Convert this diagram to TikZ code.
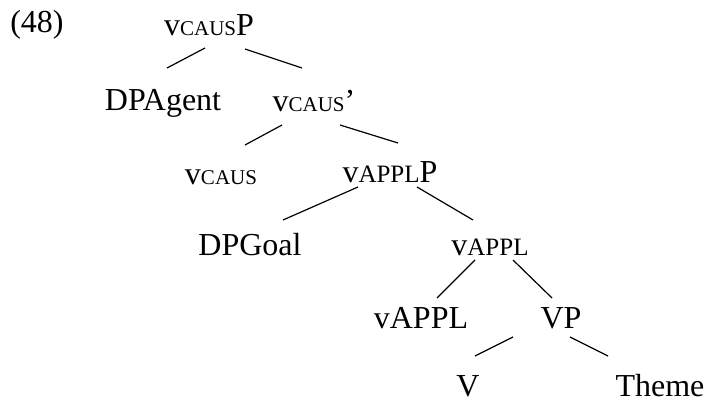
\documentclass[tikz,border=0pt]{standalone}
\usepackage{fontspec}
\setmainfont{Liberation Serif}
\usetikzlibrary{positioning}
\newcommand{\capsS}[1]{{\fontsize{21}{21}\selectfont #1}}
\newcommand{\capsM}[1]{{\fontsize{25}{25}\selectfont #1}}

\begin{document}
\begin{tikzpicture}[x=1pt, y=-1pt,
    lbl/.style={anchor=base, inner sep=0pt, font=\fontsize{32}{32}\selectfont},
    edge/.style={line width=1.2pt}]
  \useasboundingbox (0,0) rectangle (706,403);

  % Labels
  \node[lbl] (ex) at (37,33) {(48)};
  \node[lbl] (vcausP) at (209,36) {v\capsS{CAUS}P};
  \node[lbl] (dpAgent) at (163,111) {DPAgent};
  \node[lbl] (vcausBar) at (314,112) {v\capsS{CAUS}'};
  \node[lbl] (vcaus) at (221,185) {v\capsS{CAUS}};
  \node[lbl] (vapplP) at (390,183) {v\capsM{APPL}P};
  \node[lbl] (dpGoal) at (250,255) {DPGoal};
  \node[lbl] (vappl) at (490,255) {v\capsM{APPL}};
  \node[lbl] (vapplHead) at (421,328) {vAPPL};
  \node[lbl] (vp) at (561,328) {VP};
  \node[lbl] (verb) at (468,396) {V};
  \node[lbl] (theme) at (660,396) {Theme};

  % Branch ends
  \coordinate (b1a) at (205,48);  \coordinate (b1b) at (167,68);
  \coordinate (b2a) at (245,49);  \coordinate (b2b) at (302,68);
  \coordinate (b3a) at (282,125); \coordinate (b3b) at (245,145);
  \coordinate (b4a) at (340,125); \coordinate (b4b) at (398,143);
  \coordinate (b5a) at (358,187); \coordinate (b5b) at (283,220);
  \coordinate (b6a) at (417,187); \coordinate (b6b) at (473,220);
  \coordinate (b7a) at (475,260); \coordinate (b7b) at (437,298);
  \coordinate (b8a) at (513,260); \coordinate (b8b) at (552,298);
  \coordinate (b9a) at (513,337); \coordinate (b9b) at (475,356);
  \coordinate (b10a) at (570,337); \coordinate (b10b) at (608,356);

  % Branches
  \foreach \i in {1,...,10}
    \draw[edge] (b\i a) -- (b\i b);

\end{tikzpicture}
\end{document}
